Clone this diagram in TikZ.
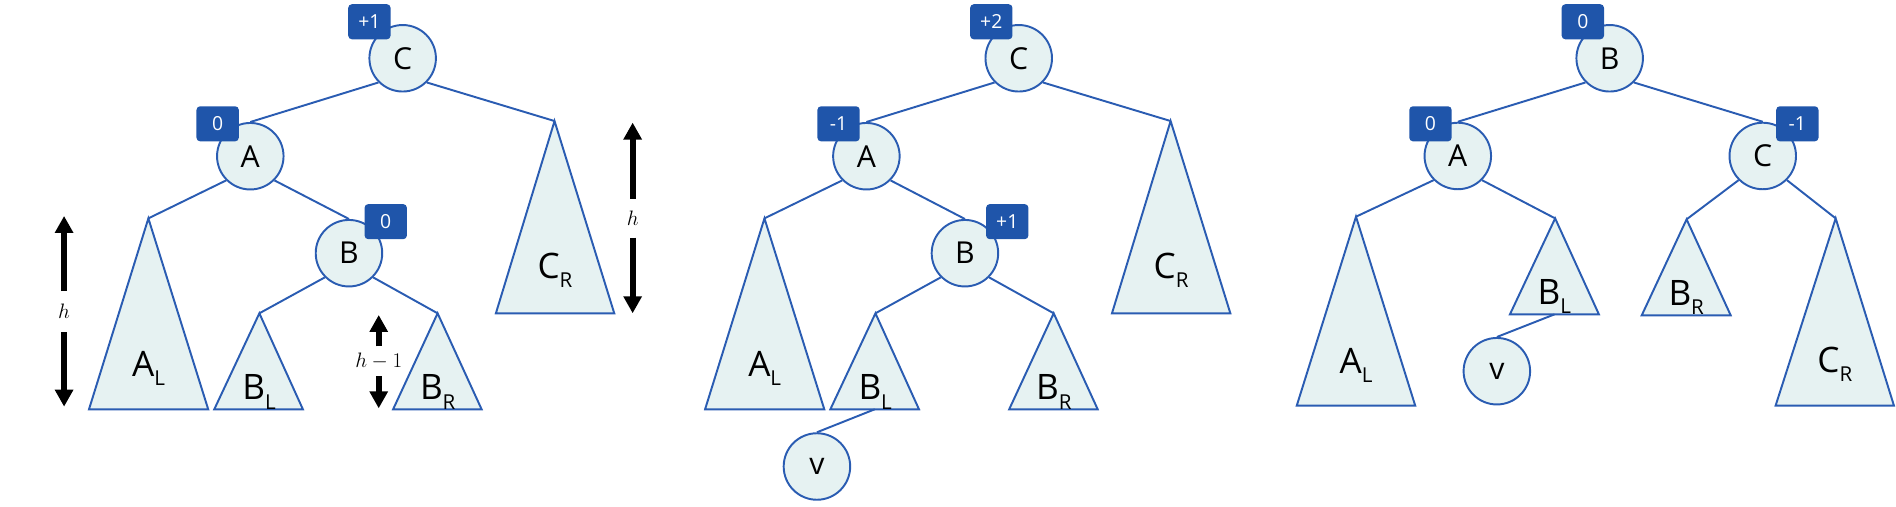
\documentclass[tikz,border=0pt]{standalone}
\usepackage[no-math]{fontspec}
\setmainfont{Open Sans}
\usetikzlibrary{arrows.meta}
\definecolor{nodefill}{HTML}{E6F2F2}
\definecolor{edgeblue}{HTML}{2A5CB2}
\definecolor{badgeblue}{HTML}{1F55AA}
\newcommand{\mysub}[2]{#1\raisebox{-7.5pt}{\fontsize{17}{17}\selectfont #2}}
\tikzset{
  treenode/.style={circle, draw=edgeblue, line width=1.6pt, fill=nodefill,
    minimum size=55pt, inner sep=0pt, font=\fontsize{25}{28}\selectfont},
  badge/.style={rounded corners=3pt, fill=badgeblue, text=white,
    minimum width=35pt, minimum height=29pt, inner sep=0pt,
    font=\fontsize{16}{18}\selectfont},
  edge/.style={draw=edgeblue, line width=1.6pt},
  subtree/.style={draw=edgeblue, line width=1.6pt, fill=nodefill, line join=miter},
  tlabel/.style={anchor=base, inner sep=0pt, font=\fontsize{29}{32}\selectfont},
  harrow/.style={line width=4.8pt, -{Triangle[width=14.5pt,length=14pt]}},
  hlabel/.style={inner sep=0pt, minimum width=10pt, font=\fontsize{18.5}{20}\selectfont},
}
\begin{document}
\begin{tikzpicture}[x=1pt,y=-1pt]
\useasboundingbox (0,0) rectangle (1568,419);

% ================= Panel 1 =================
\coordinate (al1) at (122.7,180.6);
\coordinate (bl1) at (214.5,259.1);
\coordinate (br1) at (361.9,259.1);
\coordinate (cr1) at (458.6,100.1);
\path[subtree] (al1) -- (73.6,338.5) -- (172.2,338.5) -- cycle;
\path[subtree] (bl1) -- (177.2,338.5) -- (250.5,338.5) -- cycle;
\path[subtree] (br1) -- (325.1,338.5) -- (398.3,338.5) -- cycle;
\path[subtree] (cr1) -- (410.1,259.1) -- (508,259.1) -- cycle;
\node[tlabel] (al1t) at (122.9,311) {\mysub{A}{L}};
\node[tlabel] (bl1t) at (214.3,330.8) {\mysub{B}{L}};
\node[tlabel] (br1t) at (362,330.8) {\mysub{B}{R}};
\node[tlabel] (cr1t) at (459,230.2) {\mysub{C}{R}};

\node[treenode] (c1) at (333,48.2) {C};
\node[treenode] (a1) at (207,129.2) {A};
\node[treenode] (b1) at (288.6,209.4) {B};

\draw[edge] (c1.south west) -- (a1.north);
\draw[edge] (c1.south east) -- (cr1);
\draw[edge] (a1.south west) -- (al1);
\draw[edge] (a1.south east) -- (b1.north);
\draw[edge] (b1.south west) -- (bl1);
\draw[edge] (b1.south east) -- (br1);

\node[badge] (c1b) at (305.5,18) {+1};
\node[badge] (a1b) at (180,102.4) {0};
\node[badge] (b1b) at (319,183.3) {0};

% height arrows
\node[hlabel, minimum height=33.5pt] (hA) at (53,257.8) {$h$};
\coordinate (hAt) at (53,178.6);
\coordinate (hAb) at (53,336.3);
\draw[harrow] (hA.north) -- (hAt);
\draw[harrow] (hA.south) -- (hAb);

\node[hlabel, minimum height=31.5pt] (hC) at (523.2,180.5) {$h$};
\coordinate (hCt) at (523.2,101.4);
\coordinate (hCb) at (523.2,259.1);
\draw[harrow] (hC.north) -- (hCt);
\draw[harrow] (hC.south) -- (hCb);

\node[hlabel, minimum height=24.3pt] (hB) at (313.2,298.9) {$h-1$};
\coordinate (hBt) at (313.2,260.5);
\coordinate (hBb) at (313.2,337.7);
\draw[harrow] (hB.north) -- (hBt);
\draw[harrow] (hB.south) -- (hBb);

% ================= Panel 2 =================
\coordinate (al2) at (632.2,180.6);
\coordinate (bl2) at (724,259.1);
\coordinate (br2) at (871.4,259.1);
\coordinate (cr2) at (968.1,100.1);
\coordinate (blb2) at (723.4,338.5);
\path[subtree] (al2) -- (583.1,338.5) -- (681.7,338.5) -- cycle;
\path[subtree] (bl2) -- (686.7,338.5) -- (760,338.5) -- cycle;
\path[subtree] (br2) -- (834.6,338.5) -- (907.8,338.5) -- cycle;
\path[subtree] (cr2) -- (919.6,259.1) -- (1017.5,259.1) -- cycle;
\node[tlabel] (al2t) at (632.4,311) {\mysub{A}{L}};
\node[tlabel] (bl2t) at (723.8,330.8) {\mysub{B}{L}};
\node[tlabel] (br2t) at (871.5,330.8) {\mysub{B}{R}};
\node[tlabel] (cr2t) at (968.5,230.2) {\mysub{C}{R}};

\node[treenode] (c2) at (842.5,48.2) {C};
\node[treenode] (a2) at (716.5,129.2) {A};
\node[treenode] (b2) at (798,209.4) {B};
\node[treenode] (v2) at (675.6,385.8) {v};

\draw[edge] (c2.south west) -- (a2.north);
\draw[edge] (c2.south east) -- (cr2);
\draw[edge] (a2.south west) -- (al2);
\draw[edge] (a2.south east) -- (b2.north);
\draw[edge] (b2.south west) -- (bl2);
\draw[edge] (b2.south east) -- (br2);
\draw[edge] (blb2) -- (v2.north);

\node[badge] (c2b) at (819.8,18) {+2};
\node[badge] (a2b) at (693.5,102.4) {-1};
\node[badge] (b2b) at (833,183.3) {+1};

% ================= Panel 3 =================
\coordinate (al3) at (1121.4,179.2);
\coordinate (bl3) at (1286.1,180.6);
\coordinate (br3) at (1394.8,181.4);
\coordinate (cr3) at (1518.1,180.6);
\coordinate (blb3) at (1285.5,260);
\path[subtree] (al3) -- (1072.4,335.5) -- (1170.4,335.5) -- cycle;
\path[subtree] (bl3) -- (1248.7,260) -- (1322.3,260) -- cycle;
\path[subtree] (br3) -- (1357.7,260.8) -- (1431.3,260.8) -- cycle;
\path[subtree] (cr3) -- (1468.4,335.5) -- (1566.3,335.5) -- cycle;
\node[tlabel] (al3t) at (1121.4,308.7) {\mysub{A}{L}};
\node[tlabel] (bl3t) at (1285.5,252) {\mysub{B}{L}};
\node[tlabel] (br3t) at (1394.5,252.5) {\mysub{B}{R}};
\node[tlabel] (cr3t) at (1517.4,308.2) {\mysub{C}{R}};

\node[treenode] (b3) at (1331.2,48.2) {B};
\node[treenode] (a3) at (1205.6,129) {A};
\node[treenode] (c3) at (1457.8,129) {C};
\node[treenode] (v3) at (1237.9,307) {v};

\draw[edge] (b3.south west) -- (a3.north);
\draw[edge] (b3.south east) -- (c3.north);
\draw[edge] (a3.south west) -- (al3);
\draw[edge] (a3.south east) -- (bl3);
\draw[edge] (c3.south west) -- (br3);
\draw[edge] (c3.south east) -- (cr3);
\draw[edge] (blb3) -- (v3.north);

\node[badge] (b3b) at (1309,18) {0};
\node[badge] (a3b) at (1183,102.4) {0};
\node[badge] (c3b) at (1486.4,102.4) {-1};
\end{tikzpicture}
\end{document}
